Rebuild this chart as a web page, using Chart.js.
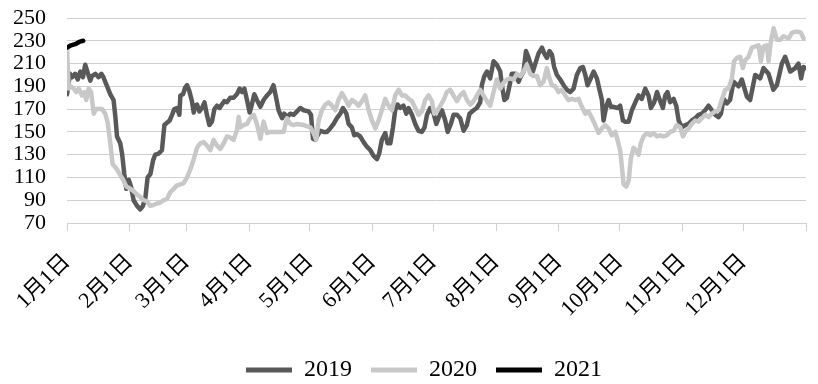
<!DOCTYPE html>
<html>
<head>
<meta charset="utf-8">
<script src="https://cdn.jsdelivr.net/npm/chart.js@4"></script>
<style>
html,body{margin:0;padding:0;background:#fff;}
#c{display:block;}
</style>
</head>
<body>
<canvas id="c" width="818" height="384"></canvas>
<script>
// X axis: day of year; tick marks at month starts
const tickDays = [0,31,59,90,120,151,181,212,243,273,304,334,365];
const tickLabels = ['1月1日','2月1日','3月1日','4月1日','5月1日','6月1日','7月1日','8月1日','9月1日','10月1日','11月1日','12月1日',''];
const yTicks = [70,90,110,130,150,170,190,210,230,250];
const seriesNames = ['2019','2020','2021'];

const days2019 = [0,1.5,2.5,4,5.3,6.6,7.9,9,10.4,11.5,12.3,14,15.6,17,18,19.8,21.4,23,23.9,24.7,26.3,27.2,28.3,29.3,30.5,31.6,32.9,34.6,36.2,37.5,38.7,39.8,41.2,42.5,43.6,45.3,46.9,48.1,49.4,50.7,51.9,53,54.3,55.5,56,57.3,58.4,59.3,60.4,61.7,62.6,63.4,64.2,65.4,66.7,67.9,69.1,70.3,71.6,72.8,74.1,75.4,76.5,77.7,79,80.6,82.3,83.9,85.3,86.4,87.6,88.9,90.2,91.3,92.5,93.8,95.5,97.1,98.8,100.4,102,103.4,104.5,106.2,107.3,108.6,110.3,111.9,113.6,115.2,116.9,119.3,120.5,121.5,122.6,123.8,125.1,126.7,128.4,130,131.7,133.3,135,136.3,138,139.1,140.7,141.9,143.2,144.8,146.5,148.1,149.8,151.4,153.1,154.2,155.5,157.2,158.3,159.7,161,162.1,163.3,164.6,166.2,167.6,168.7,170.4,172,173.6,175.3,176.6,177.8,179.4,181.1,182.4,183.5,185.2,186.8,188,189.6,190.9,192.6,194.2,195.9,197.5,198.8,200.8,202.4,204.1,204.9,206.1,207.4,209,210.7,212.3,214,214.8,216,217.3,218.6,219.7,221.4,223,224.2,225.5,226.7,228,230.1,231.3,232.9,234.6,235.7,237,238.3,239.5,240.6,242,243.6,245.3,246.9,248.6,250.2,251.8,253.5,254.8,256,257.1,258.4,260.1,261.7,263,264.2,265,266.3,267.5,268.6,270,271.9,273.2,274.6,275.7,277.4,279,280.7,282.3,283.9,285.6,287.2,288.4,290,291.4,293,294.3,295.5,296.6,297.9,299.6,300.9,302.1,303.7,305.3,307,308.6,310.3,311.9,313.6,315.2,316.9,318.5,320.2,321.8,323,324.3,325.9,327.5,329.2,331.7,333.3,335.8,337.4,339.9,342.4,344,346.5,348.9,350.6,353.1,354.7,357.2,359.7,361.3,362.6,363.7,364.6];
const vals2019 = [183,201,198,201,196,203,198,209,201,195,199,201,198,201,198,190,183,178,163,146,140,131,113,100,108,102,90,85,82,85,92,110,113,125,130,131,134,156,158,160,165,170,171,165,182,183,189,191,186,177,167,173,174,168,171,176,165,156,159,170,173,171,174,177,176,180,180,183,188,185,188,178,167,174,183,178,172,178,182,185,191,179,169,162,166,163,166,165,168,171,169,168,165,144,143,147,151,150,150,153,157,162,166,171,166,157,154,147,148,146,141,137,134,129,126,131,143,149,140,140,154,169,174,171,173,166,171,165,157,151,150,154,165,171,166,157,162,169,160,150,157,165,165,162,151,156,166,169,171,176,191,199,203,197,212,209,203,191,178,180,191,201,201,194,199,203,221,215,203,210,219,224,219,215,221,218,207,200,196,191,187,185,188,200,206,207,200,191,196,203,197,187,178,160,172,178,172,172,171,173,160,159,159,169,176,182,179,188,182,171,176,185,177,171,182,185,176,179,173,160,154,156,157,160,162,165,166,169,173,169,165,163,166,179,175,178,194,190,196,181,178,200,197,206,201,187,191,210,216,203,206,210,197,207,206];

const days2020 = [0,0.8,2,3.3,4.6,5.8,7.4,8.6,9.5,10.7,11.9,13.2,14.3,15.6,17.3,18.9,20.1,21.4,22.5,24.7,26.3,27.7,29.3,31.3,32.9,34.6,36.2,37.9,39.5,41.2,42.8,44.4,46.1,47.7,49.4,51,52.7,54.3,56,57.6,59.3,60.9,62.6,64.2,65.8,67.5,69.1,70.8,72.4,74.1,75.7,77.4,79,80.7,82.3,84,84.8,85.6,87.2,88.9,90.5,92.2,93.8,95.5,97.1,98.8,100.4,104.5,107,108.6,110.3,111.9,113.6,116.9,120.2,121.8,123.1,124.3,125.9,127.6,129.2,130.9,132.5,134.1,135.8,137.4,139.1,140.7,142.4,144,145.7,147.3,149,150.6,152.3,153.9,155.5,157.2,158.8,160.5,162.1,163.8,165.4,167.1,168.7,170.4,172,173.6,175.3,176.9,178.6,180.2,181.4,182.7,184.4,186,187.6,189.3,190.9,192.6,194.2,195.9,197.5,199.2,200.8,202.5,204.1,205.7,207.4,209,210.7,212.3,214,215.6,217.3,218.9,220.6,222.2,223.9,225.5,227.1,228.8,230.4,232.1,233.7,235.4,237,238.3,239.5,241.1,242.8,244.4,246.1,247.7,249.4,251,252.7,254.3,256,257.6,259.3,260.9,262.5,264.2,265.8,267.5,269.1,270.8,271.9,273.2,274.1,274.9,276.2,277.4,278.5,279.8,281.1,282.3,283.4,284.8,286.4,288.1,289.7,291.4,293,294.6,296.3,297.9,299.6,301.2,302.9,304.2,305.3,307,308.6,310.3,311.9,313.6,315.2,316.9,318.5,320.2,321.8,323.4,325.1,326.7,328.4,329.5,330.9,332.5,333.8,335,336.6,338.3,339.9,341.6,342.7,344,345.7,346.5,347.6,349,350.6,352.3,353.9,356.4,358,359.7,361.3,362.5,363.8];
const vals2020 = [224,188,190,188,185,188,182,185,178,188,185,166,170,170,170,166,158,140,122,117,112,108,102,100,98,95,93,90,89,85,86,87,88,90,91,97,100,103,104,105,110,117,126,136,140,141,138,134,143,138,135,140,146,145,143,152,163,154,156,157,162,165,157,144,159,149,150,150,150,162,157,156,157,156,154,149,143,160,169,174,176,173,169,178,184,179,173,178,176,173,177,182,169,160,153,160,169,179,173,169,182,187,182,182,179,177,171,165,168,178,182,177,166,168,173,178,185,187,182,177,182,185,178,174,177,182,187,182,177,173,185,196,188,193,196,197,196,201,199,203,209,201,199,199,191,194,206,197,191,190,185,187,182,178,179,178,179,172,166,168,162,156,149,153,156,153,147,150,143,134,119,104,102,107,127,136,134,130,140,146,149,147,149,146,147,146,147,150,151,156,154,146,150,153,157,160,159,162,165,163,166,168,169,178,187,188,197,212,215,216,206,213,216,224,225,226,212,225,226,212,229,241,231,231,234,232,237,238,238,237,232];

const days2021 = [0,2,4,6,8];
const vals2021 = [224,226,227,229,230];

const colors = ['#595959','#c8c8c8','#000000'];
const gridColor = '#d0d0d0';
const toPts = (d, v) => d.map((x, i) => ({x: x, y: v[i]}));

const ds = (i, d, v, order) => ({
  label: seriesNames[i],
  data: toPts(d, v),
  borderColor: colors[i],
  backgroundColor: colors[i],
  borderWidth: 4.5,
  pointRadius: 0,
  pointHoverRadius: 0,
  tension: 0,
  borderJoinStyle: 'round',
  borderCapStyle: 'round',
  order: order
});

// shifts the legend block to the reference's horizontal position
const legendShift = {
  id: 'legendShift',
  afterLayout(chart) {
    const lg = chart.legend;
    if (lg) { lg.left += 21; lg.right += 21; lg.top += 1; lg.bottom += 1; }
  }
};

new Chart(document.getElementById('c'), {
  type: 'line',
  data: {
    datasets: [
      ds(0, days2019, vals2019, 3),
      ds(1, days2020, vals2020, 2),
      ds(2, days2021, vals2021, 1)
    ]
  },
  plugins: [legendShift],
  options: {
    responsive: false,
    animation: false,
    devicePixelRatio: 1,
    layout: {padding: {top: 18, right: 12, bottom: -7, left: 0}},
    plugins: {
      tooltip: {enabled: false},
      legend: {
        position: 'bottom',
        labels: {
          boxWidth: 46,
          boxHeight: 5,
          padding: 19,
          color: '#000',
          font: {family: "'Liberation Serif', serif", size: 24},
          sort: (a, b) => a.datasetIndex - b.datasetIndex,
          generateLabels: (chart) => Chart.defaults.plugins.legend.labels.generateLabels(chart).map(l => Object.assign(l, {lineWidth: 0, fillStyle: colors[l.datasetIndex]}))
        }
      }
    },
    scales: {
      x: {
        type: 'linear',
        min: 0,
        max: 365,
        afterBuildTicks: (s) => { s.ticks = tickDays.map(v => ({value: v})); },
        afterFit: (s) => { s.height = 115; s.paddingLeft = 0; s.paddingRight = 0; },
        ticks: {
          autoSkip: false,
          maxRotation: 45,
          minRotation: 45,
          padding: 18,
          color: '#000',
          font: {family: "'Liberation Serif', 'Noto Sans CJK SC', serif", size: 22},
          callback: (v, i) => tickLabels[i]
        },
        grid: {drawOnChartArea: false, drawTicks: true, tickLength: 8, color: gridColor, lineWidth: 1},
        border: {display: true, color: gridColor, width: 1}
      },
      y: {
        min: 70,
        max: 250,
        afterBuildTicks: (s) => { s.ticks = yTicks.map(v => ({value: v})); },
        afterFit: (s) => { s.width = 67; s.paddingTop = 0; s.paddingBottom = 0; },
        ticks: {
          autoSkip: false,
          padding: 21,
          color: '#000',
          font: {family: "'Liberation Serif', serif", size: 22}
        },
        grid: {color: gridColor, drawTicks: false, lineWidth: 1},
        border: {display: false}
      }
    }
  }
}
);
</script>
</body>
</html>
